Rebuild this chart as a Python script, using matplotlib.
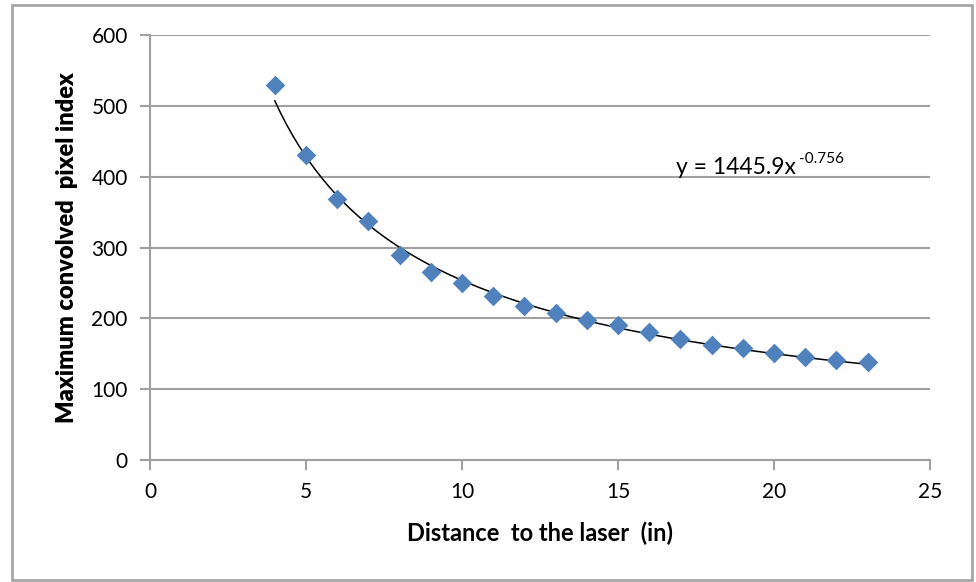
import numpy as np
import matplotlib.pyplot as plt
from matplotlib.patches import Rectangle

distance = [4, 5, 6, 7, 8, 9, 10, 11, 12, 13, 14, 15, 16, 17, 18, 19, 20, 21, 22, 23]
pixel_index = [530, 430, 368, 338, 289, 266, 250, 232, 218, 207, 198, 190, 181, 171,
               162, 158, 151, 146, 141, 139]

# power trendline shown on the chart
coef_a = 1445.9
coef_b = -0.756

plt.rcParams['font.family'] = ['Lato', 'DejaVu Sans']

fig = plt.figure(figsize=(9.76, 5.82), dpi=100)
ax = fig.add_axes([150 / 976, 1 - 460 / 582, 780 / 976, 425 / 582])

# outer chart border
fig.patches.append(Rectangle((12 / 976, 2 / 582), 960 / 976, 575 / 582,
                             transform=fig.transFigure, fill=False,
                             edgecolor='#a6a6a6', linewidth=2))

xs = np.linspace(min(distance), max(distance), 200)
ax.plot(xs, coef_a * xs ** coef_b, color='black', linewidth=1.1, zorder=2)
ax.scatter(distance, pixel_index, marker='D', s=100, color='#4f81bd', zorder=3,
           linewidths=0)

ax.set_xlim(0, 25)
ax.set_ylim(0, 600)
ax.set_xticks(range(0, 26, 5))
ax.set_yticks(range(0, 601, 100))
ax.grid(axis='y', color='#a0a0a0', linewidth=1.5)
ax.set_axisbelow(True)

for side in ['top', 'right']:
    ax.spines[side].set_visible(False)
for side in ['left', 'bottom']:
    ax.spines[side].set_color('#a0a0a0')
    ax.spines[side].set_linewidth(1.5)

ax.tick_params(axis='both', direction='out', length=7, width=1.5, color='#a0a0a0',
               labelsize=15, pad=9)

ax.set_xlabel('Distance  to the laser  (in)', fontsize=17, fontweight='bold', labelpad=14)
ax.set_ylabel('Maximum convolved  pixel index', fontsize=17, fontweight='heavy', labelpad=10)

# trendline equation, with a plain hyphen in the exponent as on the chart
fig.text(676 / 976, 1 - 174 / 582, 'y = 1445.9x', fontsize=16.5)
fig.text(799 / 976, 1 - 163 / 582, '-0.756', fontsize=11)

fig.savefig('out.png', dpi=100)
